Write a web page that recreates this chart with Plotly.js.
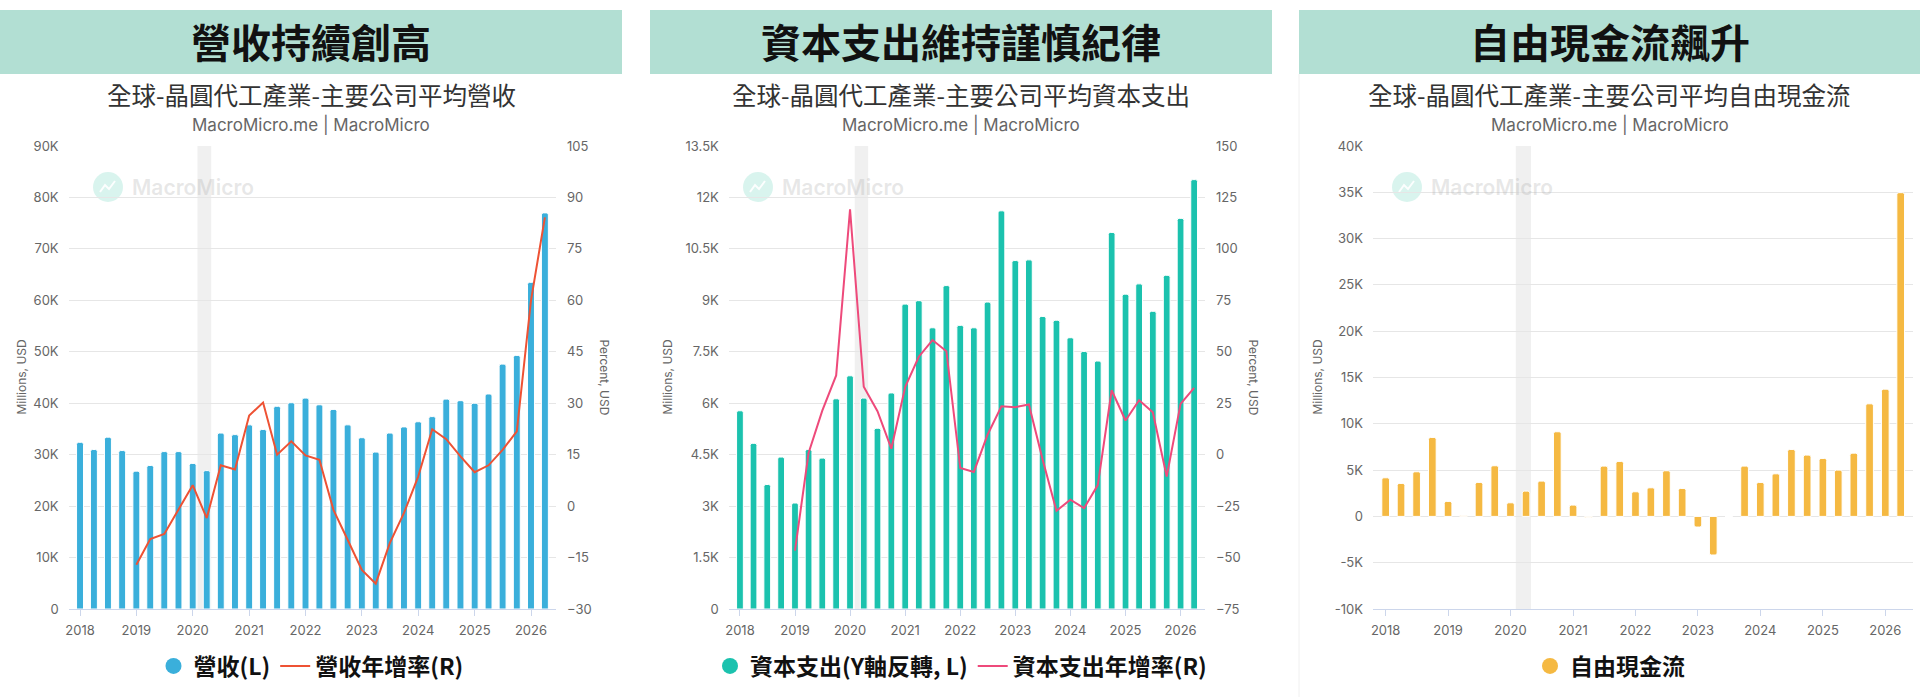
<!DOCTYPE html>
<html>
<head>
<meta charset="utf-8">
<script src="https://cdn.plot.ly/plotly-3.0.1.min.js"></script>
<style>
  html, body { margin: 0; padding: 0; background: #ffffff; }
  #chart { width: 1920px; height: 697px; }
</style>
</head>
<body>
<div id="chart"></div>
<script>
// ---------------- DATA ----------------
const quarters = [
  '2018-01-01','2018-04-01','2018-07-01','2018-10-01',
  '2019-01-01','2019-04-01','2019-07-01','2019-10-01',
  '2020-01-01','2020-04-01','2020-07-01','2020-10-01',
  '2021-01-01','2021-04-01','2021-07-01','2021-10-01',
  '2022-01-01','2022-04-01','2022-07-01','2022-10-01',
  '2023-01-01','2023-04-01','2023-07-01','2023-10-01',
  '2024-01-01','2024-04-01','2024-07-01','2024-10-01',
  '2025-01-01','2025-04-01','2025-07-01','2025-10-01',
  '2026-01-01','2026-04-01'
];
// 營收 (Millions, USD)
const revenue = [
  32400, 31000, 33400, 30800,
  26800, 27900, 30600, 30600,
  28300, 26900, 34200, 33900,
  35800, 34900, 39400, 40100,
  41000, 39700, 38800, 35800,
  33300, 30500, 34200, 35400,
  36400, 37400, 40800, 40500,
  40000, 41800, 47600, 49300,
  63500, 77000
];
// 營收年增率 (%)
const revenueYoY = [
  null, null, null, null,
  -17.1, -9.6, -8.1, -0.9,
  6.1, -3.5, 11.9, 10.7,
  26.4, 30.2, 15.0, 18.9,
  14.8, 13.5, -1.1, -9.8,
  -18.6, -22.6, -10.8, -2.0,
  8.6, 22.4, 19.5, 14.5,
  9.9, 11.9, 16.4, 21.8,
  60.0, 84.2
];
// 資本支出 (Millions, USD)
const capex = [
  5780, 4830, 3630, 4430,
  3090, 4650, 4400, 6130,
  6800, 6150, 5270, 6300,
  8890, 8990, 8200, 9430,
  8270, 8200, 8950, 11610,
  10160, 10180, 8530, 8420,
  7910, 7510, 7230, 10980,
  9180, 9480, 8680, 9730,
  11390, 12520
];
// 資本支出年增率 (%)
const capexYoY = [
  null, null, null, null,
  -46.6, 0.8, 21.4, 38.5,
  119.2, 33.0, 21.1, 2.9,
  33.0, 47.6, 55.7, 50.3,
  -6.5, -8.4, 9.7, 23.5,
  23.1, 24.4, -2.4, -27.3,
  -21.9, -26.0, -14.8, 31.3,
  16.6, 26.5, 20.6, -10.6,
  24.7, 32.5
];
// 自由現金流 (Millions, USD)
const fcf = [
  4170, 3560, 4820, 8530,
  1620, 110, 3670, 5470,
  1470, 2730, 3810, 9140,
  1220, -110, 5430, 5940,
  2660, 3090, 4930, 3020,
  -1150, -4170, 0, 5430,
  3670, 4600, 7230, 6620,
  6260, 5000, 6830, 12160,
  13740, 34960
];
// Recession period
const recession = ['2020-02-01', '2020-04-30'];

// Tick labels
const revTickVals = [0, 10000, 20000, 30000, 40000, 50000, 60000, 70000, 80000, 90000];
const revTickText = ['0', '10K', '20K', '30K', '40K', '50K', '60K', '70K', '80K', '90K'];
const capexTickVals = [0, 1500, 3000, 4500, 6000, 7500, 9000, 10500, 12000, 13500];
const capexTickText = ['0', '1.5K', '3K', '4.5K', '6K', '7.5K', '9K', '10.5K', '12K', '13.5K'];
const fcfTickVals = [-10000, -5000, 0, 5000, 10000, 15000, 20000, 25000, 30000, 35000, 40000];
const fcfTickText = ['-10K', '-5K', '0', '5K', '10K', '15K', '20K', '25K', '30K', '35K', '40K'];

// Text
const headers = ['營收持續創高', '資本支出維持謹慎紀律', '自由現金流飆升'];
const subtitles = ['全球-晶圓代工產業-主要公司平均營收', '全球-晶圓代工產業-主要公司平均資本支出', '全球-晶圓代工產業-主要公司平均自由現金流'];
const sourceText = 'MacroMicro.me | MacroMicro';
const names = {
  rev: '營收(L)', revYoY: '營收年增率(R)',
  capex: '資本支出(Y軸反轉, L)', capexYoY: '資本支出年增率(R)',
  fcf: '自由現金流'
};

// Colors
const C = {
  rev: '#3aafdb', revLine: '#ee5234',
  capex: '#1bc2ae', capexLine: '#ee4a7b',
  fcf: '#f5b942',
  band: '#b2dfd3', grid: '#e6e6e6', axis: '#ccd6eb', tick: '#666666'
};

// ---------------- LAYOUT HELPERS ----------------
const W = 1920, H = 697;
const PX = x => x / W;
const PY = y => 1 - y / H;
const FONT = "Inter, 'Noto Sans CJK TC', 'Noto Sans', sans-serif";
const CJK = "'Noto Sans CJK TC', 'Noto Sans CJK SC', sans-serif";

const panels = [
  { band: [0, 622],    plot: [68.6, 556],  mark: 108,  yl: 21,   yr: 604 },
  { band: [650, 1272], plot: [728.8, 1205], mark: 758, yl: 667,  yr: 1253 },
  { band: [1299, 1920], plot: [1373, 1913], mark: 1407, yl: 1317, yr: null }
];
const plotTop = 146, plotBottom = 609;
const yDomain = [PY(plotBottom), PY(plotTop)];
const xRange = ['2017-10-19', '2026-06-12'];

// ---------------- TRACES ----------------
const barCommon = {
  type: 'bar', x: quarters, showlegend: false, hoverinfo: 'skip',
  marker: { line: { color: '#ffffff', width: 1 }, cornerradius: 2 }
};
const traces = [
  Object.assign({}, barCommon, { y: revenue, xaxis: 'x', yaxis: 'y', name: names.rev,
    marker: Object.assign({}, barCommon.marker, { color: C.rev }) }),
  { type: 'scatter', mode: 'markers', x: [null], y: [null], xaxis: 'x', yaxis: 'y',
    name: names.rev, legend: 'legend', marker: { color: C.rev, size: 16, symbol: 'circle' } },
  { type: 'scatter', mode: 'lines', x: quarters, y: revenueYoY, xaxis: 'x', yaxis: 'y2',
    name: names.revYoY, legend: 'legend', line: { color: C.revLine, width: 2 } },

  Object.assign({}, barCommon, { y: capex, xaxis: 'x2', yaxis: 'y3', name: names.capex,
    marker: Object.assign({}, barCommon.marker, { color: C.capex }) }),
  { type: 'scatter', mode: 'markers', x: [null], y: [null], xaxis: 'x2', yaxis: 'y3',
    name: names.capex, legend: 'legend2', marker: { color: C.capex, size: 16, symbol: 'circle' } },
  { type: 'scatter', mode: 'lines', x: quarters, y: capexYoY, xaxis: 'x2', yaxis: 'y4',
    name: names.capexYoY, legend: 'legend2', line: { color: C.capexLine, width: 2 } },

  Object.assign({}, barCommon, { y: fcf, xaxis: 'x3', yaxis: 'y5', name: names.fcf,
    marker: Object.assign({}, barCommon.marker, { color: C.fcf }) }),
  { type: 'scatter', mode: 'markers', x: [null], y: [null], xaxis: 'x3', yaxis: 'y5',
    name: names.fcf, legend: 'legend3', marker: { color: C.fcf, size: 16, symbol: 'circle' } }
];

// ---------------- AXES ----------------
function xAxis(i, anchor) {
  const p = panels[i].plot;
  return {
    domain: [PX(p[0]), PX(p[1])], anchor: anchor, type: 'date', range: xRange,
    tick0: '2018-01-01', dtick: 'M12', tickformat: '%Y',
    ticks: 'outside', ticklen: 6, tickcolor: C.axis, tickwidth: 1,
    showline: true, linecolor: C.axis, linewidth: 1,
    showgrid: false, zeroline: false, fixedrange: true,
    tickfont: { size: 13, color: C.tick, family: FONT }, ticklabelstandoff: 3
  };
}
function yLeft(anchor, range, vals, text) {
  return {
    domain: yDomain, anchor: anchor, range: range, tickvals: vals, ticktext: text,
    showgrid: true, gridcolor: C.grid, gridwidth: 1, zeroline: false, showline: false,
    ticks: '', ticklabelstandoff: 9, fixedrange: true,
    tickfont: { size: 13, color: C.tick, family: FONT }
  };
}
function yRight(anchor, overlay, range, dtick) {
  return {
    overlaying: overlay, side: 'right', anchor: anchor, range: range, dtick: dtick, tick0: 0,
    showgrid: false, zeroline: false, showline: false,
    ticks: '', ticklabelstandoff: 10, fixedrange: true,
    tickfont: { size: 13, color: C.tick, family: FONT }
  };
}

// ---------------- SHAPES & ANNOTATIONS ----------------
const shapes = [];
const annotations = [];
panels.forEach((p, i) => {
  // header band
  shapes.push({ type: 'rect', xref: 'paper', yref: 'paper',
    x0: PX(p.band[0]), x1: PX(p.band[1]), y0: PY(74), y1: PY(10),
    fillcolor: C.band, line: { width: 0 }, layer: 'below' });
  annotations.push({ xref: 'paper', yref: 'paper', x: PX((p.band[0] + p.band[1]) / 2), y: PY(41),
    text: headers[i], showarrow: false, xanchor: 'center', yanchor: 'middle',
    font: { family: CJK, size: 40, color: '#111111', weight: 700 } });
  const cx = (p.band[0] + p.band[1]) / 2;
  annotations.push({ xref: 'paper', yref: 'paper', x: PX(cx), y: PY(94),
    text: subtitles[i], showarrow: false, xanchor: 'center', yanchor: 'middle',
    font: { family: CJK, size: 24.5, color: '#333333' } });
  annotations.push({ xref: 'paper', yref: 'paper', x: PX(cx), y: PY(124),
    text: sourceText, showarrow: false, xanchor: 'center', yanchor: 'middle',
    font: { family: FONT, size: 17, color: '#666666' } });
  // axis titles
  annotations.push({ xref: 'paper', yref: 'paper', x: PX(p.yl), y: PY((plotTop + plotBottom) / 2),
    text: 'Millions, USD', textangle: -90, showarrow: false, xanchor: 'center', yanchor: 'middle',
    font: { family: FONT, size: 12, color: '#666666' } });
  if (p.yr !== null) {
    annotations.push({ xref: 'paper', yref: 'paper', x: PX(p.yr), y: PY((plotTop + plotBottom) / 2),
      text: 'Percent, USD', textangle: 90, showarrow: false, xanchor: 'center', yanchor: 'middle',
      font: { family: FONT, size: 12, color: '#666666' } });
  }
  // watermark
  const r = 15, my = 187;
  shapes.push({ type: 'circle', xref: 'paper', yref: 'paper',
    x0: PX(p.mark - r), x1: PX(p.mark + r), y0: PY(my + r), y1: PY(my - r),
    fillcolor: 'rgba(120,215,195,0.28)', line: { width: 0 }, layer: 'below' });
  const pts = [[-8, 5], [-3, -2], [1, 2], [7, -6]];
  shapes.push({ type: 'path', xref: 'paper', yref: 'paper',
    path: 'M' + pts.map(q => PX(p.mark + q[0]) + ',' + PY(my + q[1])).join(' L'),
    line: { color: 'rgba(255,255,255,0.9)', width: 2 }, layer: 'below' });
  annotations.push({ xref: 'paper', yref: 'paper', x: PX(p.mark + 22), y: PY(my),
    text: 'MacroMicro', showarrow: false, xanchor: 'left', yanchor: 'middle',
    font: { family: FONT, size: 21, color: 'rgba(170,170,170,0.28)', weight: 600 } });
});
// recession shading
[['x', 'y domain'], ['x2', 'y3 domain'], ['x3', 'y5 domain']].forEach(ref => {
  shapes.push({ type: 'rect', xref: ref[0], yref: ref[1], x0: recession[0], x1: recession[1],
    y0: 0, y1: 1, fillcolor: '#f0f0f0', line: { width: 0 }, layer: 'below' });
});
// panel 3 card border
shapes.push({ type: 'line', xref: 'paper', yref: 'paper', x0: PX(1299), x1: PX(1299),
  y0: 0, y1: PY(74), line: { color: '#f0f0f0', width: 1 } });

const legendBase = {
  orientation: 'h', yref: 'paper', y: PY(666), yanchor: 'middle', xanchor: 'center',
  bgcolor: 'rgba(0,0,0,0)', borderwidth: 0, itemclick: false, itemdoubleclick: false,
  font: { family: CJK, size: 23, color: '#111111', weight: 700 }, tracegroupgap: 0
};

const layout = {
  width: W, height: H,
  margin: { l: 0, r: 0, t: 0, b: 0, pad: 0 },
  paper_bgcolor: '#ffffff', plot_bgcolor: 'rgba(0,0,0,0)',
  font: { family: FONT, color: '#666666' },
  bargap: 0.5,
  showlegend: true,
  xaxis: xAxis(0, 'y'),
  xaxis2: xAxis(1, 'y3'),
  xaxis3: xAxis(2, 'y5'),
  yaxis: yLeft('x', [0, 90000], revTickVals, revTickText),
  yaxis2: yRight('x', 'y', [-30, 105], 15),
  yaxis3: yLeft('x2', [0, 13500], capexTickVals, capexTickText),
  yaxis4: yRight('x2', 'y3', [-75, 150], 25),
  yaxis5: yLeft('x3', [-10000, 40000], fcfTickVals, fcfTickText),
  legend: Object.assign({}, legendBase, { x: PX(311) }),
  legend2: Object.assign({}, legendBase, { x: PX(961) }),
  legend3: Object.assign({}, legendBase, { x: PX(1610) }),
  shapes: shapes,
  annotations: annotations
};

Plotly.newPlot('chart', traces, layout, { displayModeBar: false, staticPlot: true });
</script>
</body>
</html>
